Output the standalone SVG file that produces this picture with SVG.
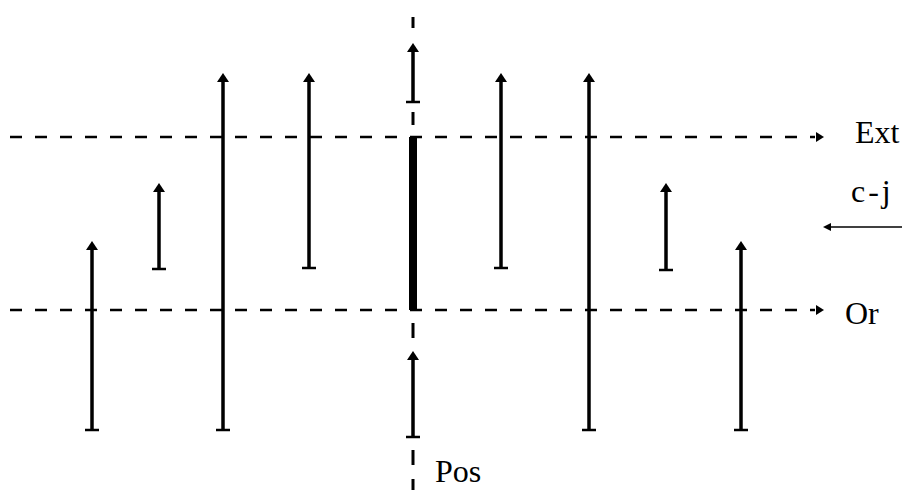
<svg xmlns="http://www.w3.org/2000/svg" width="902" height="490" viewBox="0 0 902 490">
<style>
.dash{stroke:#000;stroke-width:2.5;stroke-dasharray:12 13;fill:none}
.vd{stroke:#000;stroke-width:3;fill:none}
.shaft{stroke:#000;stroke-width:3.5;fill:none;marker-end:url(#ah)}
.tail{stroke:#000;stroke-width:2.5}
.lbl{font-family:"Liberation Serif",serif;font-size:32px;fill:#000}
</style>
<defs>
<marker id="ah" viewBox="0 0 9 12" refX="1" refY="6" markerWidth="9" markerHeight="12" orient="auto" markerUnits="userSpaceOnUse">
<path d="M0,0 L9,6 L0,12 z" fill="#000"/>
</marker>
</defs>
<rect width="902" height="490" fill="#fff"/>
<g id="connectors">
<line class="dash" x1="10" y1="137" x2="815" y2="137"/>
<path d="M816,132 L824,137 L816,142 z" fill="#000"/>
<line class="dash" x1="10" y1="310" x2="815" y2="310"/>
<path d="M816,305 L824,310 L816,315 z" fill="#000"/>
<path class="vd" d="M413,17 V28 M413,112 V125 M413,323 V338 M413,450 V465 M413,479 V490"/>
</g>
<g id="center-bar"><rect x="409" y="137" width="8" height="173" fill="#000"/></g>
<g id="arrows">
<g id="a1"><line class="shaft" x1="92" y1="430" x2="92" y2="249"/><line class="tail" x1="85" y1="430" x2="99" y2="430"/></g>
<g id="a2"><line class="shaft" x1="159" y1="269" x2="159" y2="191"/><line class="tail" x1="152" y1="269" x2="166" y2="269"/></g>
<g id="a3"><line class="shaft" x1="223" y1="430" x2="223" y2="81"/><line class="tail" x1="216" y1="430" x2="230" y2="430"/></g>
<g id="a4"><line class="shaft" x1="309" y1="268" x2="309" y2="81"/><line class="tail" x1="302" y1="268" x2="316" y2="268"/></g>
<g id="a5"><line class="shaft" x1="413" y1="102" x2="413" y2="51"/><line class="tail" x1="406" y1="102" x2="420" y2="102"/></g>
<g id="a6"><line class="shaft" x1="413" y1="437" x2="413" y2="359"/><line class="tail" x1="406" y1="437" x2="420" y2="437"/></g>
<g id="a7"><line class="shaft" x1="501" y1="268" x2="501" y2="81"/><line class="tail" x1="494" y1="268" x2="508" y2="268"/></g>
<g id="a8"><line class="shaft" x1="589" y1="430" x2="589" y2="81"/><line class="tail" x1="582" y1="430" x2="596" y2="430"/></g>
<g id="a9"><line class="shaft" x1="666" y1="270" x2="666" y2="191"/><line class="tail" x1="659" y1="270" x2="673" y2="270"/></g>
<g id="a10"><line class="shaft" x1="741" y1="430" x2="741" y2="249"/><line class="tail" x1="734" y1="430" x2="748" y2="430"/></g>
<g id="cj"><line x1="902" y1="227" x2="830" y2="227" stroke="#000" stroke-width="1.5"/><path d="M831,223 L823,227 L831,231 z" fill="#000"/></g>
</g>
<g id="labels">
<text class="lbl" x="855" y="143">Ext</text>
<text class="lbl" x="851" y="202" letter-spacing="3">c-j</text>
<text class="lbl" x="845" y="324">Or</text>
<text class="lbl" x="435" y="482">Pos</text>
</g>
</svg>
